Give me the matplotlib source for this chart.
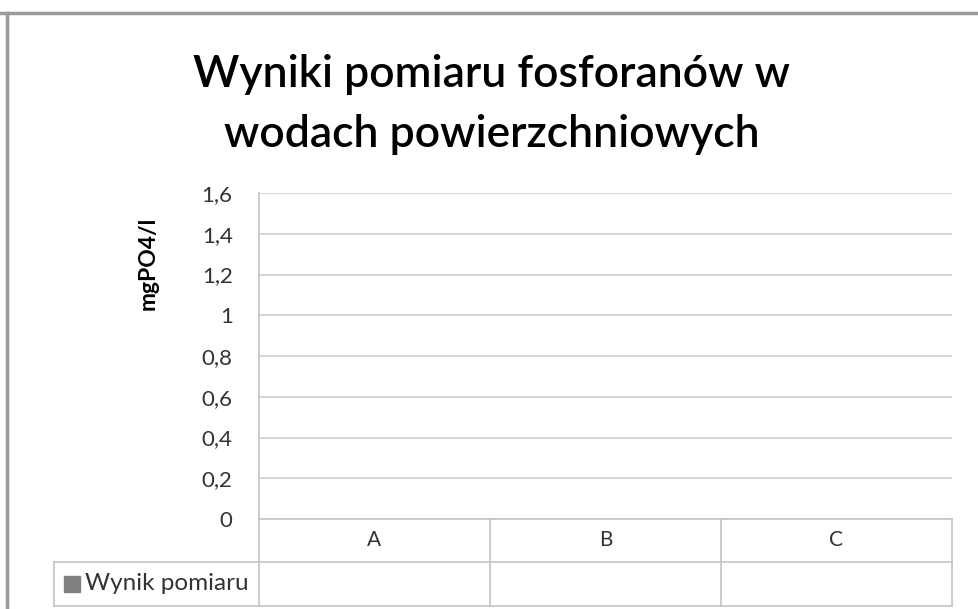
import numpy as np
import matplotlib
matplotlib.use('Agg')
from matplotlib import pyplot as plt
from matplotlib.lines import Line2D
from matplotlib.patches import Rectangle

title_lines = ['Wyniki pomiaru fosforanów w', 'wodach powierzchniowych']
ylabel = 'mgPO4/l'
categories = ['A', 'B', 'C']
series_name = 'Wynik pomiaru'
values = [np.nan, np.nan, np.nan]  # puste komórki w tabeli danych
yticks = [0, 0.2, 0.4, 0.6, 0.8, 1.0, 1.2, 1.4, 1.6]

W, H = 979, 609
plt.rcParams['font.family'] = ['Lato', 'DejaVu Sans']
text_color = '#333333'

fig = plt.figure(figsize=(W / 100, H / 100), dpi=100)
fig.patch.set_facecolor('white')


def fx(px):
    return px / W


def fy(py):
    return 1 - py / H


# plot area in pixels
left, right, top, bottom = 259, 952, 193, 519
ax = fig.add_axes([fx(left), fy(bottom), fx(right) - fx(left), fy(top) - fy(bottom)])

bar_color = '#7f7f7f'
x = np.arange(len(categories))
ax.bar(x, values, width=0.6, color=bar_color)
ax.set_xlim(-0.5, len(categories) - 0.5)
ax.set_ylim(0, 1.6)
ax.set_yticks(yticks)
ax.set_yticklabels([('%g' % t).replace('.', ',') for t in yticks],
                   fontsize=16, color=text_color)
ax.set_xticks([])
ax.tick_params(axis='y', length=0, pad=19)
ax.yaxis.grid(True, color='#cfcfcf', linewidth=1.2)
ax.set_axisbelow(True)
for s in ax.spines.values():
    s.set_visible(False)

fig.text(fx(148), fy(263), ylabel, rotation=90, ha='center', va='center',
         fontsize=16.5, fontweight='bold', color='black')

for line, base in zip(title_lines, [87, 147]):
    fig.text(fx(492), fy(base), line, ha='center', va='baseline',
             fontsize=32, fontweight='semibold', color='black')

# data table under the plot area
grid_kw = dict(color='#c4c4c4', linewidth=1.2, transform=fig.transFigure)
row1, row2, row3 = 519, 562, 606
label_left = 54
col_w = (right - left) / len(categories)
lines = [
    ([left, left], [top, row3]),
    ([left, right], [row1, row1]),
    ([label_left, right], [row2, row2]),
    ([label_left, right], [row3, row3]),
    ([label_left, label_left], [row2, row3]),
]
for i in range(1, len(categories) + 1):
    xx = left + i * col_w
    lines.append(([xx, xx], [row1, row3]))
for xs, ys in lines:
    fig.add_artist(Line2D([fx(v) for v in xs], [fy(v) for v in ys], **grid_kw))

for i, (cat, val) in enumerate(zip(categories, values)):
    cx = left + (i + 0.5) * col_w
    fig.text(fx(cx), fy((row1 + row2) / 2), cat, ha='center', va='center',
             fontsize=15, color=text_color)
    txt = '' if np.isnan(val) else ('%g' % val).replace('.', ',')
    fig.text(fx(cx), fy((row2 + row3) / 2), txt, ha='center', va='center',
             fontsize=15, color=text_color)

fig.add_artist(Rectangle((fx(64), fy(592)), fx(16), fy(576) - fy(592),
                         color=bar_color, transform=fig.transFigure))
fig.text(fx(85), fy(584), series_name, ha='left', va='center',
         fontsize=17.5, color=text_color)

# chart frame (top and left edge)
frame_kw = dict(color='#9a9a9a', linewidth=2.5, transform=fig.transFigure)
fig.add_artist(Line2D([0, 1], [fy(13), fy(13)], **frame_kw))
fig.add_artist(Line2D([fx(7), fx(7)], [fy(13), 0], **frame_kw))

fig.savefig('out.png', dpi=100, facecolor='white')
